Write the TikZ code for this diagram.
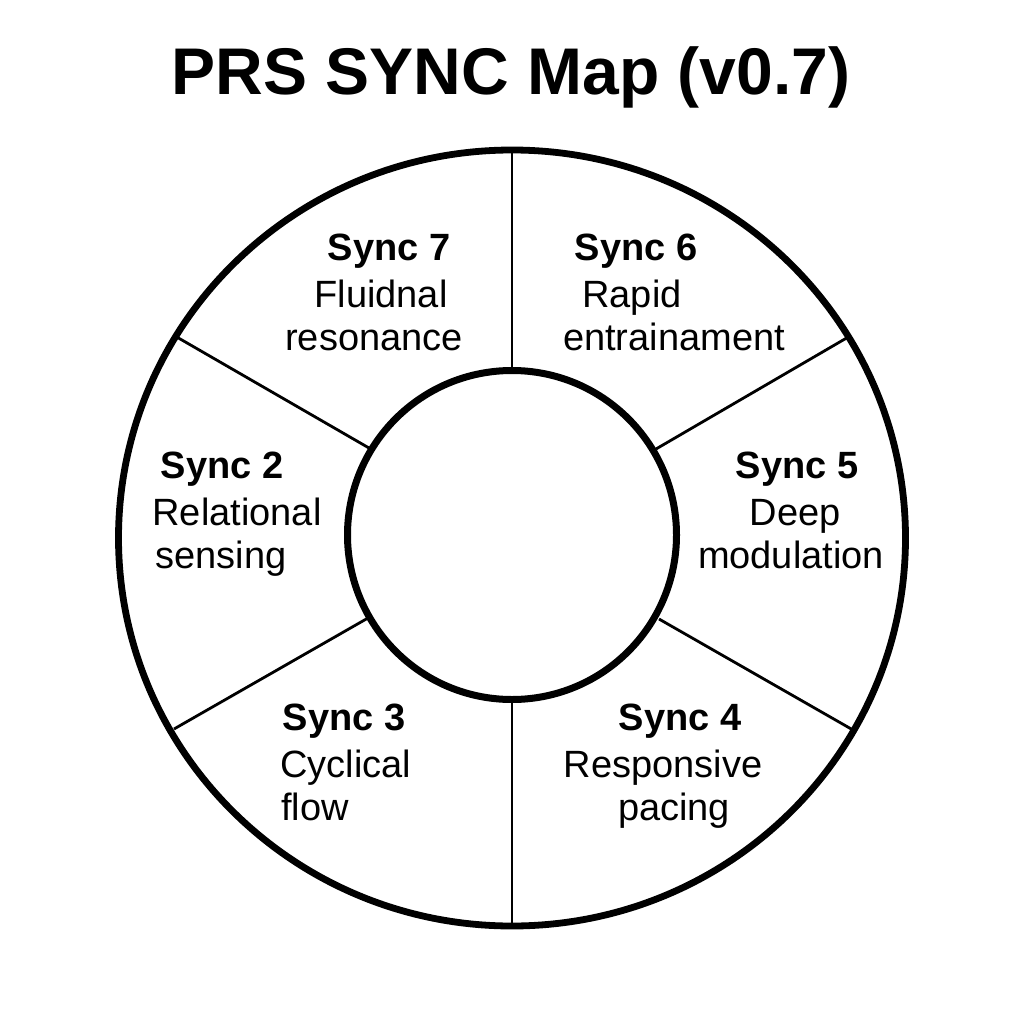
\documentclass[tikz,border=0pt]{standalone}
\usepackage{fontspec}
\setmainfont{Liberation Sans}
\begin{document}
\begin{tikzpicture}[x=1pt,y=-1pt,
  ttl/.style={font=\fontsize{66}{70}\selectfont\bfseries,anchor=base,inner sep=0pt},
  hd/.style={font=\fontsize{38}{42}\selectfont\bfseries,anchor=base,inner sep=0pt},
  bd/.style={font=\fontsize{38}{42}\selectfont,anchor=base,inner sep=0pt},
  divider/.style={line width=2.8pt},
]
\useasboundingbox[fill=white] (0,0) rectangle (1024,1024);
% title
\node[ttl] (title) at (511,95) {PRS SYNC Map (v0.7)};
% circles
\draw[line width=6.8pt] (512,538) ellipse [x radius=393.5, y radius=388];
\draw[line width=7pt] (512,535) circle [radius=164.5];
% dividers
\coordinate (t1) at (512,152); \coordinate (t2) at (512,369);
\coordinate (b1) at (512,701); \coordinate (b2) at (512,924);
\coordinate (ul1) at (175,336); \coordinate (ul2) at (369,448);
\coordinate (ur1) at (850,336); \coordinate (ur2) at (656,449);
\coordinate (ll1) at (174,729); \coordinate (ll2) at (368,618);
\coordinate (lr1) at (853,730); \coordinate (lr2) at (659,619);
\draw[divider] (t1) -- (t2);
\draw[divider] (b1) -- (b2);
\draw[divider] (ul1) -- (ul2);
\draw[divider] (ur1) -- (ur2);
\draw[divider] (ll1) -- (ll2);
\draw[divider] (lr1) -- (lr2);
% Sync 7
\node[hd] (s7h) at (389,260) {Sync 7};
\node[bd] (s7a) at (381,307) {Fluidnal};
\node[bd] (s7b) at (374,350) {resonance};
% Sync 6
\node[hd] (s6h) at (636,260) {Sync 6};
\node[bd] (s6a) at (632,307) {Rapid};
\node[bd] (s6b) at (674,350) {entrainament};
% Sync 2
\node[hd] (s2h) at (222,478) {Sync 2};
\node[bd] (s2a) at (237,525) {Relational};
\node[bd] (s2b) at (221,568) {sensing};
% Sync 5
\node[hd] (s5h) at (797,478) {Sync 5};
\node[bd] (s5a) at (795,525) {Deep};
\node[bd] (s5b) at (791,568) {modulation};
% Sync 3
\node[hd] (s3h) at (344,730) {Sync 3};
\node[bd] (s3a) at (346,777) {Cyclical};
\node[bd] (s3b) at (315,820) {flow};
% Sync 4
\node[hd] (s4h) at (680,730) {Sync 4};
\node[bd] (s4a) at (663,777) {Responsive};
\node[bd] (s4b) at (674,820) {pacing};
\end{tikzpicture}
\end{document}
